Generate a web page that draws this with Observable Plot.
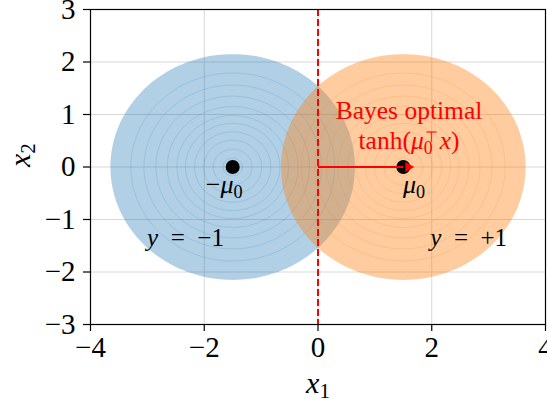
<!DOCTYPE html>
<html><head><meta charset="utf-8">
<script src="https://cdn.jsdelivr.net/npm/d3@7"></script>
<script src="https://cdn.jsdelivr.net/npm/@observablehq/plot@0.6"></script>
<style>html,body{margin:0;padding:0;background:#fff;overflow:hidden}</style>
</head><body><div id="chart"></div>
<script>
// ---- data ----
const xTicks = [-4, -2, 0, 2, 4];
const yTicks = [-3, -2, -1, 0, 1, 2, 3];
const classNames = ["y = −1", "y = +1"];
const classCentersX = [-1.5, 1.5];
const classCentersY = [0, 0];
const classColors = ["#1f77b4", "#ff7f0e"];
const classFillOpacity = [0.35, 0.4];
const outerRadius = 2.15;
const ringRadii = [0.17, 0.34, 0.51, 0.67, 0.83, 0.98, 1.15, 1.35, 1.56, 1.79];
const meanLabels = ["−μ₀", "μ₀"];
const meanLabelX = [-1.65, 1.69];
const meanLabelY = [-0.5, -0.5];
const classLabelX = [-2.33, 2.65];
const classLabelY = [-1.5, -1.5];
const boundaryX = [0];
const arrowFrom = [0, 0];
const arrowTo = [1.5, 0];
const bayesLines = ["Bayes optimal", "tanh(μ₀ᵀx)"];
const bayesX = [1.6, 1.6];
const bayesY = [0.92, 0.35];
const xLabel = "x₁";
const yLabel = "x₂";

// circle outline points from a center and radius
function circle(cx, cy, r, id) {
  const n = 180;
  return d3.range(n).map(i => {
    const a = 2 * Math.PI * i / n;
    return {id, x: cx + r * Math.cos(a), y: cy + r * Math.sin(a)};
  });
}
const fills = [0, 1].map(k => circle(classCentersX[k], classCentersY[k], outerRadius, k));
const rings = [0, 1].map(k => ringRadii.flatMap((r, j) => circle(classCentersX[k], classCentersY[k], r, j)));

const marks = [
  Plot.gridX(xTicks, {stroke: "#d8d8d8", strokeOpacity: 1, strokeWidth: 1}),
  Plot.gridY(yTicks, {stroke: "#d8d8d8", strokeOpacity: 1, strokeWidth: 1})
];
[0, 1].forEach(k => {
  marks.push(Plot.line(fills[k], {x: "x", y: "y", z: "id", curve: "linear-closed", fill: classColors[k], fillOpacity: classFillOpacity[k], stroke: "none"}));
  marks.push(Plot.line(rings[k], {x: "x", y: "y", z: "id", curve: "linear-closed", stroke: classColors[k], strokeOpacity: 0.22, strokeWidth: 0.8, fill: "none"}));
});
const fmt = d3.format("d");
marks.push(
  Plot.ruleX(boundaryX, {stroke: "red", strokeWidth: 2, strokeDasharray: "7,3"}),
  Plot.dot(classCentersX, {x: d => d, y: (d, i) => classCentersY[i], r: 7, fill: "black", stroke: "none"}),
  Plot.link([[arrowFrom, arrowTo]], {x1: d => d[0][0], y1: d => d[0][1], x2: d => d[1][0], y2: d => d[1][1], stroke: "red", strokeWidth: 1.8}),
  Plot.dot([arrowTo], {x: d => d[0], y: d => d[1], symbol: "triangle", rotate: 90, r: 3.8, fill: "red", stroke: "none", dx: 5}),
  Plot.text(meanLabels, {x: (d, i) => meanLabelX[i], y: (d, i) => meanLabelY[i], text: d => d, fontSize: 26, lineAnchor: "bottom", textAnchor: "middle", fill: "black"}),
  Plot.text(classNames, {x: (d, i) => classLabelX[i], y: (d, i) => classLabelY[i], text: d => d, fontSize: 25, lineAnchor: "bottom", textAnchor: "middle", fill: "black"}),
  Plot.text(bayesLines, {x: (d, i) => bayesX[i], y: (d, i) => bayesY[i], text: d => d, fontSize: 25.5, lineAnchor: "bottom", textAnchor: "middle", fill: "red"}),
  Plot.frame({stroke: "black", strokeWidth: 1.2}),
  Plot.axisX(xTicks, {tickSize: 7, tickPadding: 5, fontSize: 29, tickFormat: fmt, label: null, strokeWidth: 1.2}),
  Plot.axisY(yTicks, {tickSize: 7, tickPadding: 8, fontSize: 29, tickFormat: fmt, label: null, strokeWidth: 1.2}),
  Plot.text([xLabel], {frameAnchor: "bottom", dy: 68, lineAnchor: "bottom", text: d => d, fontSize: 30, fill: "black"}),
  Plot.text([yLabel], {frameAnchor: "left", dx: -61, rotate: -90, lineAnchor: "bottom", text: d => d, fontSize: 30, fill: "black"})
);

const chart = Plot.plot({
  width: 547, height: 405,
  marginLeft: 90, marginRight: 2, marginTop: 9, marginBottom: 81,
  x: {domain: [-4, 4], label: null},
  y: {domain: [-3, 3], label: null},
  style: {fontFamily: "'Liberation Serif', serif", background: "white", color: "black"},
  marks
});

// render math-style labels with italics, subscripts and superscripts
const it = s => `<tspan font-style="italic">${s}</tspan>`;
const sub = s => `<tspan font-size="0.7em" dy="5">${s}</tspan>`;
const mathMap = {
  "x₁": it("x") + sub("1"),
  "x₂": it("x") + sub("2"),
  "−μ₀": "−" + it("μ") + sub("0"),
  "μ₀": it("μ") + sub("0"),
  "y = −1": it("y") + "\u2002=\u2002−1",
  "y = +1": it("y") + "\u2002=\u2002+1",
  "tanh(μ₀ᵀx)": "tanh(" + it("μ") + sub("0") +
    `<tspan font-size="0.6em" dx="-8" dy="-12">⊤</tspan><tspan font-style="italic" dx="2" dy="7">x</tspan>)`
};
chart.querySelectorAll("text").forEach(t => {
  const k = t.textContent;
  if (mathMap[k] !== undefined) t.innerHTML = mathMap[k];
});
document.getElementById("chart").appendChild(chart);
</script>
</body></html>
